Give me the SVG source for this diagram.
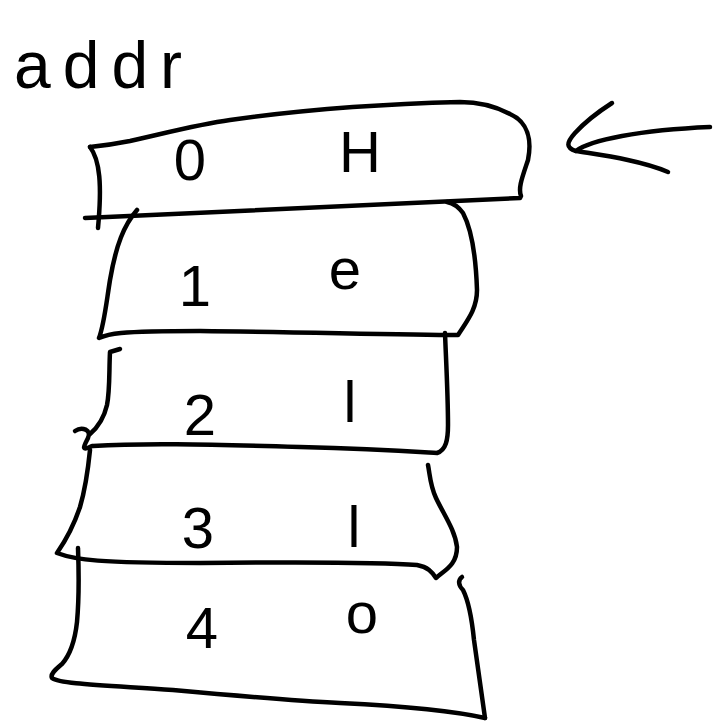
<svg xmlns="http://www.w3.org/2000/svg" width="720" height="724" viewBox="0 0 720 724">
<style>
.s{fill:none;stroke:#000;stroke-width:4.5;stroke-linecap:round;stroke-linejoin:round}
.t{font-family:"Liberation Sans",Arial,sans-serif;font-size:58px;fill:#000;text-anchor:middle}
.lbl{font-family:"Liberation Sans",Arial,sans-serif;font-size:66px;letter-spacing:12px;fill:#000}
</style>
<rect width="720" height="724" fill="#fff"/>
<g id="addr-label"><text class="lbl" x="14" y="88">addr</text></g>
<g id="cell0">
<path class="s" d="M90,147 C100,146 110,145 130,141 C170,132 200,124 230,120 C300,110 380,104 460,102 C480,102 495,106 510,114 C528,122 532,140 528,160 C522,178 518,188 521,196 L520,198 L85,218"/>
<path class="s" d="M90,147 C100,160 102,185 98,228"/>
<text class="t" x="190" y="180">0</text>
<text class="t" x="360" y="172">H</text>
</g>
<g id="cell1">
<path class="s" d="M137,210 C124,225 116,245 110,280 C106,305 104,325 99,338 C108,334 115,331 200,331 C300,332 400,335 458,335 C466,322 477,310 477,290 C476,260 472,230 463,213 C458,206 452,203 447,202"/>
<text class="t" x="195" y="306">1</text>
<text class="t" x="345" y="289">e</text>
</g>
<g id="cell2">
<path class="s" d="M120,349 L110,352 C109,370 110,390 107,405 C104,418 97,428 90,434"/>
<path class="s" d="M75,431 C82,426 92,430 88,438 C84,446 80,452 92,446"/>
<path class="s" d="M445,333 C446,360 448,395 448,425 C448,440 446,450 437,453 C420,452 380,449 300,447 C200,444 140,443 93,446"/>
<text class="t" x="200" y="435">2</text>
<text class="t" x="350" y="422">l</text>
</g>
<g id="cell3">
<path class="s" d="M90,450 C88,470 85,490 80,507 C74,525 66,540 57,553 C75,560 100,563 200,563 C300,562 380,562 417,565 C428,567 432,572 436,578 C445,570 457,565 457,547 C455,530 444,515 436,498 C430,485 430,475 428,465"/>
<text class="t" x="198" y="548">3</text>
<text class="t" x="354" y="547">l</text>
</g>
<g id="cell4">
<path class="s" d="M78,548 C79,575 79,600 77,622 C75,640 70,655 62,664 C55,670 50,674 52,678 C60,684 100,685 173,690 C250,697 300,701 340,703 C400,706 450,710 485,718"/>
<path class="s" d="M462,577 C458,580 458,585 463,590 C468,600 472,620 474,640 C478,670 482,695 485,718"/>
<text class="t" x="202" y="648">4</text>
<text class="t" x="362" y="633">o</text>
</g>
<g id="connectors">
<path class="s" d="M612,103 C598,112 585,122 575,133 C566,143 566,148 576,151 C590,140 640,130 710,127"/>
<path class="s" d="M576,151 C600,155 640,160 668,172"/>
</g>
</svg>
